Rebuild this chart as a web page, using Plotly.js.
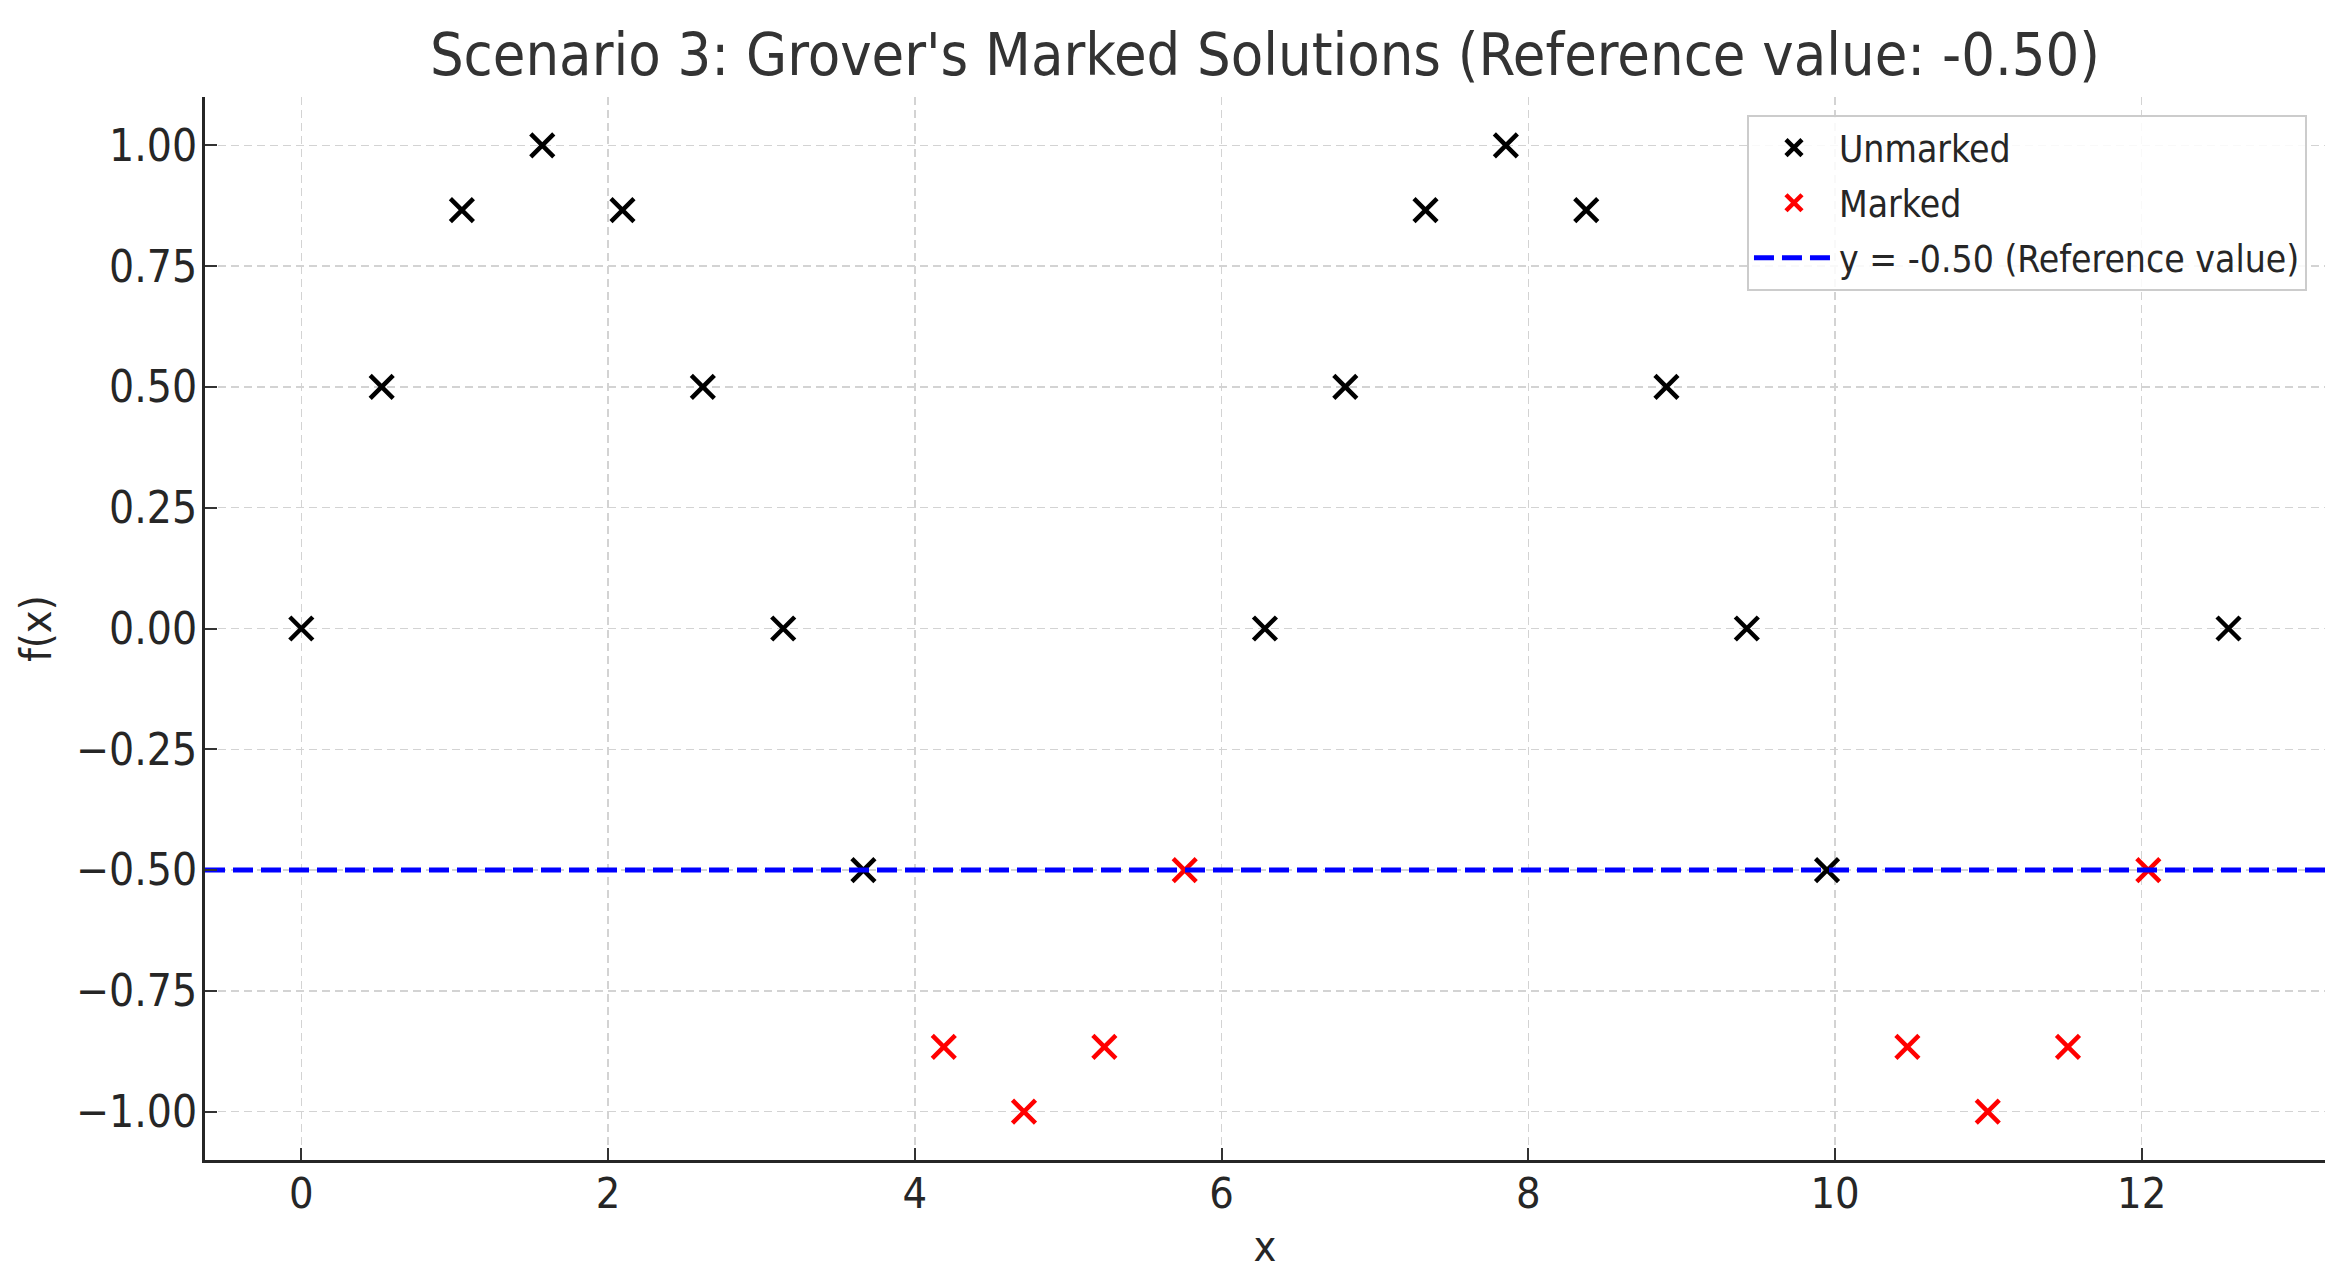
<!DOCTYPE html>
<html>
<head>
<meta charset="utf-8">
<script src="https://cdn.plot.ly/plotly-3.0.1.min.js"></script>
<style>
  html, body { margin: 0; padding: 0; background: #ffffff; }
  #chart { width: 2352px; height: 1283px; }
</style>
</head>
<body>
<div id="chart"></div>
<script>
// ---- data ----
const unmarkedX = [0, 0.524, 1.047, 1.571, 2.094, 2.618, 3.142, 3.665, 6.283, 6.807, 7.330, 7.854, 8.378, 8.901, 9.425, 9.948, 12.566];
const unmarkedY = [0, 0.5, 0.866, 1.0, 0.866, 0.5, 0, -0.5, 0, 0.5, 0.866, 1.0, 0.866, 0.5, 0, -0.5, 0];
const markedX = [4.189, 4.712, 5.236, 5.760, 10.472, 10.996, 11.519, 12.043];
const markedY = [-0.866, -1.0, -0.866, -0.5, -0.866, -1.0, -0.866, -0.5];
const referenceValue = -0.5;
const xRange = [-0.628, 13.195];
const yRange = [-1.1, 1.1];
const yTicks = [-1.0, -0.75, -0.5, -0.25, 0.0, 0.25, 0.5, 0.75, 1.0];
const xTicks = [0, 2, 4, 6, 8, 10, 12];
const titleText = "Scenario 3: Grover's Marked Solutions (Reference value: -0.50)";
const names = ["Unmarked", "Marked", "y = -0.50 (Reference value)"];

const FONT = "DejaVu Sans Condensed, DejaVu Sans, sans-serif";

const traces = [
  {
    type: 'scatter', mode: 'markers', name: names[0], legendgroup: 'g1',
    x: unmarkedX, y: unmarkedY,
    marker: { symbol: 'x-thin-open', size: 23, color: '#000000', line: { color: '#000000', width: 4.5 } }
  },
  {
    type: 'scatter', mode: 'markers', name: names[1], legendgroup: 'g2',
    x: markedX, y: markedY,
    marker: { symbol: 'x-thin-open', size: 23, color: '#ff0000', line: { color: '#ff0000', width: 4.5 } }
  },
  {
    type: 'scatter', mode: 'lines', name: names[2], legendgroup: 'g3',
    x: [xRange[0], xRange[1]], y: [referenceValue, referenceValue],
    line: { color: '#0000ff', width: 5, dash: '20px,8px' }
  }
];

const gridStyle = { showgrid: true, gridcolor: '#d3d3d3', gridwidth: 1.5, griddash: '8px,5px' };

const layout = {
  width: 2352, height: 1283,
  paper_bgcolor: '#ffffff', plot_bgcolor: '#ffffff',
  margin: { l: 205, r: 27, t: 97, b: 123, pad: 0 },
  font: { family: FONT, color: '#262626', size: 43 },
  title: {
    text: titleText,
    font: { family: FONT, size: 59, color: '#333333' },
    x: 0.5, xref: 'paper', xanchor: 'center',
    y: 1 - 54 / 1283, yref: 'container', yanchor: 'middle'
  },
  xaxis: Object.assign({
    range: xRange, tickmode: 'array', tickvals: xTicks, ticktext: xTicks.map(String),
    ticks: 'inside', ticklen: 12, tickwidth: 2, tickcolor: '#333333',
    showline: true, linecolor: '#262626', linewidth: 3, mirror: false,
    zeroline: false, tickfont: { size: 43, family: FONT, color: '#262626' },
    ticklabelstandoff: -7,
    title: { text: 'x', font: { size: 43, family: FONT, color: '#262626' }, standoff: 15 },
    automargin: false
  }, gridStyle),
  yaxis: Object.assign({
    range: yRange, tickmode: 'array', tickvals: yTicks, tickformat: '.2f',
    ticks: 'inside', ticklen: 12, tickwidth: 2, tickcolor: '#333333',
    showline: true, linecolor: '#262626', linewidth: 3, mirror: false,
    zeroline: false, tickfont: { size: 44, family: FONT, color: '#262626' },
    ticklabelstandoff: -4,
    title: { text: 'f(x)', font: { size: 43, family: FONT, color: '#262626' }, standoff: 11 },
    automargin: false
  }, gridStyle),
  showlegend: true,
  legend: {
    x: 0.9915, xanchor: 'right', y: 0.983, yanchor: 'top',
    bgcolor: 'rgba(255,255,255,0.85)', bordercolor: '#cccccc', borderwidth: 2,
    font: { family: FONT, size: 37, color: '#262626' },
    itemwidth: 80, tracegroupgap: 4
  }
};

Plotly.newPlot('chart', traces, layout, { displayModeBar: false, staticPlot: true });
</script>
</body>
</html>
